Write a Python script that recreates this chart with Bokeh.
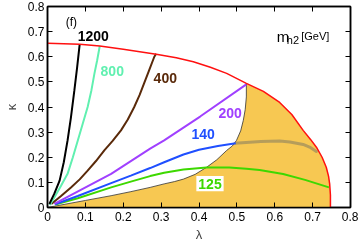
from bokeh.plotting import figure
from bokeh.models import FixedTicker, LinearAxis, Range1d
from bokeh.core.properties import value
from bokeh.embed import file_html
from bokeh.resources import INLINE

# ---- data ----
ticks = [0, 0.1, 0.2, 0.3, 0.4, 0.5, 0.6, 0.7, 0.8]
tick_labels = ["0", "0.1", "0.2", "0.3", "0.4", "0.5", "0.6", "0.7", "0.8"]

# outer (red) boundary
red_lam = [0.0, 0.085, 0.138, 0.20, 0.287, 0.34, 0.385, 0.43, 0.473, 0.525, 0.57, 0.613, 0.645, 0.675, 0.695, 0.71, 0.725, 0.736, 0.742, 0.745, 0.747, 0.747]
red_kap = [0.654, 0.65, 0.643, 0.63, 0.61, 0.596, 0.58, 0.558, 0.534, 0.494, 0.462, 0.418, 0.37, 0.307, 0.27, 0.24, 0.2, 0.16, 0.125, 0.094, 0.05, 0.0]

# inner boundary of the shaded region
bnd_lam = [0.0, 0.1, 0.168, 0.22, 0.271, 0.308, 0.335, 0.359, 0.39, 0.42, 0.447, 0.473, 0.488, 0.499, 0.51, 0.517, 0.522, 0.525, 0.525]
bnd_kap = [0.0, 0.028, 0.047, 0.063, 0.08, 0.094, 0.103, 0.113, 0.132, 0.16, 0.19, 0.227, 0.245, 0.267, 0.305, 0.347, 0.39, 0.44, 0.494]

# gray curve inside shaded region
gray_lam = [0.495, 0.534, 0.563, 0.613, 0.64, 0.675, 0.695, 0.71]
gray_kap = [0.256, 0.26, 0.263, 0.265, 0.261, 0.251, 0.238, 0.223]

# m_h2 contours
m125_lam = [0.02, 0.08, 0.168, 0.22, 0.271, 0.308, 0.359, 0.42, 0.48, 0.525, 0.56, 0.622, 0.68, 0.743]
m125_kap = [0.012, 0.037, 0.08, 0.103, 0.125, 0.138, 0.151, 0.159, 0.159, 0.154, 0.149, 0.133, 0.11, 0.08]

m140_lam = [0.02, 0.08, 0.168, 0.22, 0.271, 0.308, 0.359, 0.40, 0.45, 0.497]
m140_kap = [0.013, 0.046, 0.097, 0.127, 0.157, 0.18, 0.211, 0.23, 0.245, 0.256]

m200_lam = [0.018, 0.168, 0.271, 0.308, 0.403, 0.525]
m200_kap = [0.014, 0.134, 0.234, 0.267, 0.362, 0.49]

m400_lam = [0.01, 0.035, 0.062, 0.085, 0.106, 0.128, 0.15, 0.172, 0.194, 0.212, 0.229, 0.243, 0.255, 0.268, 0.282, 0.287]
m400_kap = [0.014, 0.045, 0.08, 0.112, 0.147, 0.185, 0.227, 0.265, 0.307, 0.35, 0.40, 0.447, 0.494, 0.545, 0.60, 0.612]

m800_lam = [0.006, 0.018, 0.035, 0.053, 0.067, 0.08, 0.093, 0.106, 0.116, 0.124, 0.131, 0.138]
m800_kap = [0.01, 0.04, 0.085, 0.134, 0.2, 0.267, 0.333, 0.40, 0.467, 0.534, 0.585, 0.643]

m1200_lam = [0.005, 0.018, 0.032, 0.043, 0.053, 0.062, 0.071, 0.078, 0.085]
m1200_kap = [0.014, 0.055, 0.107, 0.18, 0.267, 0.36, 0.467, 0.555, 0.65]

labels = ["1200", "800", "400", "200", "140", "125"]

p = figure(width=358, height=245, x_range=Range1d(0, 0.8), y_range=Range1d(0, 0.8),
           output_backend="svg", toolbar_location=None,
           min_border_left=47, min_border_right=8, min_border_top=6, min_border_bottom=38)
p.styles = {"position": "fixed", "left": "0px", "top": "0px"}
p.grid.visible = False
p.background_fill_color = "white"
p.outline_line_color = "black"
p.outline_line_width = 1.5

FONT = "Liberation Sans"

def style_axis(ax, labels_on=True):
    ax.ticker = FixedTicker(ticks=ticks)
    ax.major_tick_in = 5
    ax.major_tick_out = 0
    ax.minor_tick_in = 0
    ax.minor_tick_out = 0
    ax.axis_line_color = "black"
    ax.axis_line_width = 1.5
    ax.major_tick_line_color = "black"
    ax.major_tick_line_width = 1
    ax.major_label_text_font = FONT
    ax.major_label_text_font_size = "12px"
    ax.major_label_text_color = "black"
    ax.axis_label_text_font = FONT
    ax.axis_label_text_font_size = "13px"
    ax.axis_label_text_font_style = "normal"
    if labels_on:
        ax.major_label_overrides = {t: l for t, l in zip(ticks, tick_labels)}
    else:
        ax.major_label_overrides = {t: "" for t in ticks}
        ax.major_label_standoff = 0

style_axis(p.xaxis[0])
style_axis(p.yaxis[0])
p.xaxis.axis_label = "λ"
p.yaxis.axis_label = "κ"
p.xaxis.major_label_standoff = 4
p.yaxis.major_label_standoff = 3
p.xaxis.axis_label_standoff = 3
p.yaxis.axis_label_standoff = 6

top = LinearAxis()
right = LinearAxis()
style_axis(top, False)
style_axis(right, False)
p.add_layout(top, "above")
p.add_layout(right, "right")

# shaded region
fill_lam = bnd_lam + [l for l in red_lam if l > 0.525]
fill_kap = bnd_kap + [k for l, k in zip(red_lam, red_kap) if l > 0.525]
p.patch(fill_lam, fill_kap, fill_color="#f7c852", line_color=None)
p.line(bnd_lam, bnd_kap, line_color="#333333", line_width=0.8)
p.line(gray_lam, gray_kap, line_color="#8a8060", line_alpha=0.6, line_width=3, line_cap="round")

p.line(m125_lam, m125_kap, line_color="#3dd800", line_width=2)
p.line(m140_lam, m140_kap, line_color="#1f4fff", line_width=2)
p.line(m200_lam, m200_kap, line_color="#a040ff", line_width=2)
p.line(m400_lam, m400_kap, line_color="#5a2a0a", line_width=2)
p.line(m800_lam, m800_kap, line_color="#60f0b0", line_width=2)
p.line(m1200_lam, m1200_kap, line_color="black", line_width=2)
p.line(red_lam, red_kap, line_color="#ff1010", line_width=1.5)

# labels
lab_x = [0.121, 0.171, 0.311, 0.482, 0.411, 0.429]
lab_y = [0.683, 0.543, 0.515, 0.375, 0.291, 0.095]
lab_c = ["black", "#60f0b0", "#5a2a0a", "#a040ff", "#1f4fff", "#3dd800"]
p.rect([0.429], [0.095], width=0.072, height=0.06, fill_color="white", line_color=None)
p.text(lab_x, lab_y, text=labels, text_color=lab_c, text_font=value(FONT),
       text_font_style="bold", text_font_size="14px", text_align="center", text_baseline="middle")
p.text([0.063], [0.739], text=["(f)"], text_font=value(FONT), text_font_size="12px",
       text_align="center", text_baseline="middle", text_color="black")
p.text([0.605], [0.679], text=["m"], text_font=value(FONT), text_font_size="15px",
       text_align="left", text_baseline="alphabetic", text_color="black")
p.text([0.632], [0.665], text=["h2"], text_font=value(FONT), text_font_size="11px",
       text_align="left", text_baseline="alphabetic", text_color="black")
p.text([0.67], [0.681], text=["[GeV]"], text_font=value(FONT), text_font_size="11px",
       text_align="left", text_baseline="alphabetic", text_color="black")

open("out.html", "w").write(file_html(p, INLINE))
